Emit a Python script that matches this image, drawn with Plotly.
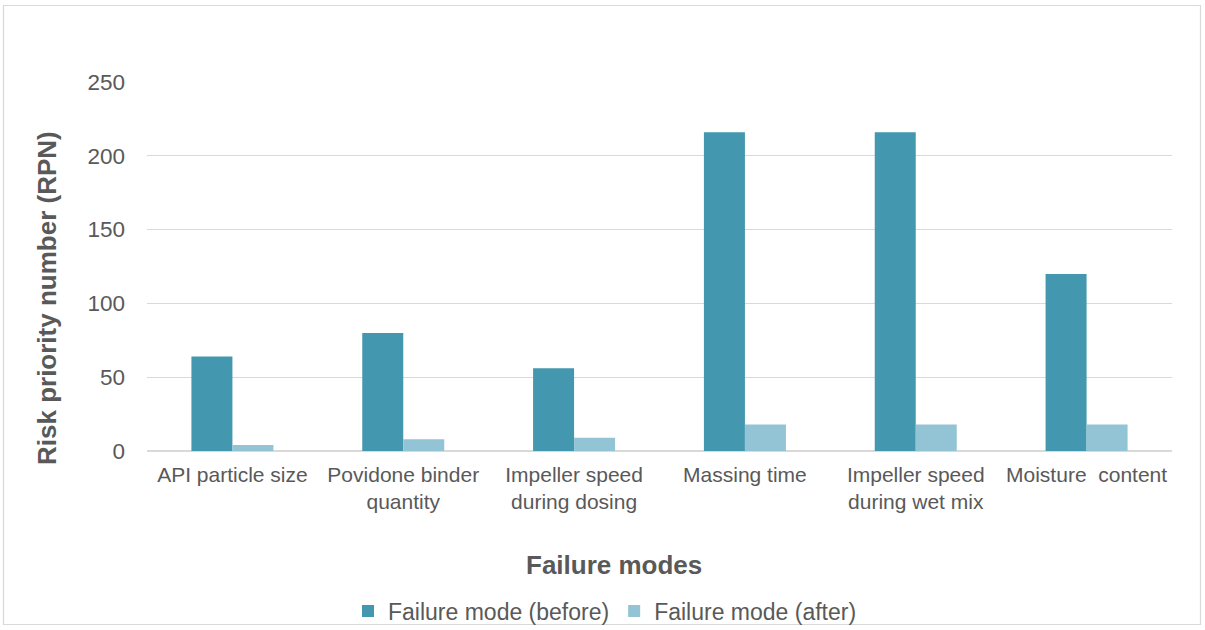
import plotly.graph_objects as go

# Failure modes and their risk priority numbers
categories = [
    "API particle size",
    "Povidone binder<br>quantity",
    "Impeller speed<br>during dosing",
    "Massing time",
    "Impeller speed<br>during wet mix",
    "Moisture\u00a0 content",
]
rpn_before = [64, 80, 56, 216, 216, 120]
rpn_after = [4, 8, 9, 18, 18, 18]

TEXT = "#595959"
FONT = "Liberation Sans, Arial, sans-serif"

fig = go.Figure()
fig.add_trace(go.Bar(
    name="Failure mode (before)", x=categories, y=rpn_before,
    marker=dict(color="#4397AE", line=dict(width=0)),
))
fig.add_trace(go.Bar(
    name="Failure mode (after)", x=categories, y=rpn_after,
    marker=dict(color="#93C4D5", line=dict(width=0)),
))

# plot area geometry in pixels
W, H = 1205, 630
L, R, T, B = 147, 33, 82, 179
pw, ph = W - L - R, H - T - B

def px_x(x):
    return (x - L) / pw

def px_y(y):
    return (H - B - y) / ph

fig.update_layout(
    width=W, height=H,
    margin=dict(l=L, r=R, t=T, b=B, autoexpand=False),
    paper_bgcolor="white", plot_bgcolor="white",
    font=dict(family=FONT, color=TEXT, size=21),
    barmode="group", bargap=0.52, bargroupgap=0,
    showlegend=True,
    legend=dict(
        orientation="h", x=px_x(605), xanchor="center",
        y=px_y(611), yanchor="middle",
        font=dict(size=23, color=TEXT), bgcolor="rgba(0,0,0,0)",
        traceorder="normal", itemwidth=30,
    ),
    xaxis=dict(
        showgrid=False, showline=False, ticks="",
        tickfont=dict(size=21, color=TEXT),
        ticklabelstandoff=9,
    ),
    yaxis=dict(
        range=[0, 250], dtick=50, showgrid=True, gridcolor="#D9D9D9",
        gridwidth=1, zeroline=True, zerolinecolor="#D9D9D9", zerolinewidth=1.5,
        showline=False, ticks="", tickfont=dict(size=22.5, color=TEXT),
        ticklabelstandoff=21,
    ),
    annotations=[
        dict(text="<b>Failure modes</b>", xref="paper", yref="paper",
             x=px_x(614), y=px_y(565), xanchor="center", yanchor="middle",
             showarrow=False, font=dict(size=26, color=TEXT)),
        dict(text="<b>Risk priority number (RPN)</b>", xref="paper", yref="paper",
             x=px_x(47), y=px_y(298), xanchor="center", yanchor="middle",
             textangle=-90, showarrow=False, font=dict(size=26, color=TEXT)),
    ],
    shapes=[
        dict(type="rect", xref="paper", yref="paper",
             x0=px_x(3.5), x1=px_x(1200.5), y0=px_y(624.5), y1=px_y(5.5),
             line=dict(color="#D9D9D9", width=1.2), fillcolor="rgba(0,0,0,0)",
             layer="below"),
    ],
)

fig.write_html("out.html")
